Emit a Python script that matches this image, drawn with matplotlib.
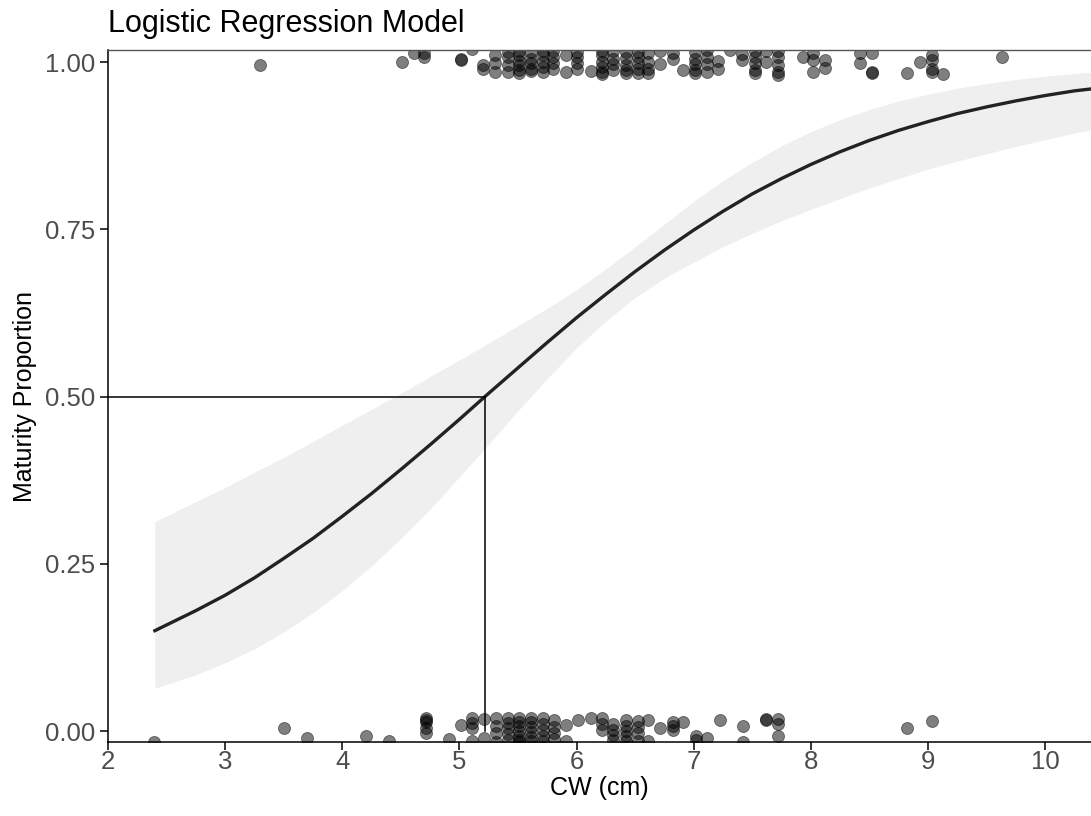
import matplotlib
matplotlib.use("Agg")
import matplotlib.pyplot as plt

plt.rcParams['font.family'] = ['Liberation Sans', 'DejaVu Sans']

# fitted curve and confidence band
cw = [2.4, 2.75, 3.0, 3.25, 3.5, 3.75, 4.0, 4.25, 4.5, 4.75, 5.0, 5.25, 5.5,
      5.75, 6.0, 6.25, 6.5, 6.75, 7.0, 7.25, 7.5, 7.75, 8.0, 8.25, 8.5, 8.75,
      9.0, 9.25, 9.5, 9.75, 10.0, 10.25, 10.4]
fit = [0.150, 0.180, 0.203, 0.229, 0.258, 0.288, 0.321, 0.355, 0.391, 0.428,
       0.466, 0.505, 0.543, 0.581, 0.618, 0.653, 0.687, 0.719, 0.749, 0.777,
       0.803, 0.826, 0.847, 0.866, 0.883, 0.898, 0.911, 0.923, 0.933, 0.942,
       0.950, 0.957, 0.960]
lower = [0.064, 0.084, 0.102, 0.123, 0.148, 0.177, 0.210, 0.247, 0.288, 0.332,
         0.380, 0.429, 0.479, 0.527, 0.573, 0.613, 0.648, 0.677, 0.701, 0.724,
         0.744, 0.763, 0.780, 0.796, 0.812, 0.826, 0.840, 0.852, 0.863, 0.874,
         0.884, 0.894, 0.899]
upper = [0.313, 0.343, 0.364, 0.387, 0.409, 0.433, 0.457, 0.481, 0.505, 0.530,
         0.555, 0.580, 0.606, 0.632, 0.660, 0.691, 0.724, 0.758, 0.792, 0.823,
         0.850, 0.875, 0.896, 0.914, 0.929, 0.942, 0.952, 0.961, 0.968, 0.974,
         0.979, 0.983, 0.985]

cw50 = 5.22

# jittered observations, mature (near 1)
mature = [
    (3.30, [0.995]), (4.51, [1.000]), (4.61, [1.013]), (4.70, [1.013, 1.007]),
    (5.01, [1.005, 1.003]), (5.11, [1.019]), (5.20, [0.995, 0.989]),
    (5.30, [1.011, 0.998, 0.985]), (5.41, [1.015, 1.008, 0.995, 0.985]),
    (5.51, [1.016, 1.010, 1.002, 0.995, 0.988, 0.983]),
    (5.61, [1.015, 1.005, 0.998, 0.990, 0.986]),
    (5.71, [1.016, 1.010, 1.000, 0.992, 0.985]),
    (5.80, [1.016, 1.008, 0.998, 0.990]), (5.91, [1.010, 0.985]),
    (6.00, [1.015, 1.008, 0.998, 0.990]), (6.12, [0.987]),
    (6.22, [1.016, 1.010, 1.000, 0.993, 0.985, 0.982]),
    (6.31, [1.016, 1.005, 0.997, 0.988]),
    (6.42, [1.015, 1.006, 0.996, 0.988, 0.983]),
    (6.52, [1.015, 1.008, 0.998, 0.990, 0.984]),
    (6.61, [1.013, 1.000, 0.990, 0.983]), (6.71, [1.017, 0.997]),
    (6.82, [1.013, 1.005]), (6.91, [0.988]),
    (7.01, [1.015, 1.005, 0.997, 0.988, 0.983]),
    (7.11, [1.018, 1.008, 0.997, 0.985]), (7.21, [1.002, 0.990]),
    (7.31, [1.018]), (7.41, [1.012, 1.003]),
    (7.52, [1.016, 1.008, 0.998, 0.988, 0.983]), (7.62, [1.017, 1.000]),
    (7.72, [1.016, 1.008, 0.995, 0.985, 0.981]), (7.93, [1.008]),
    (8.02, [1.013, 1.003, 0.985]), (8.12, [1.003, 0.991]),
    (8.42, [1.013, 0.998]), (8.52, [1.013, 0.985, 0.984]), (8.82, [0.984]),
    (8.93, [1.000]), (9.03, [1.010, 1.003, 0.990, 0.985]), (9.13, [0.982]),
    (9.63, [1.007]),
]

# jittered observations, immature (near 0)
immature = [
    (2.39, [-0.016]), (3.50, [0.004]), (3.70, [-0.011]), (4.20, [-0.007]),
    (4.40, [-0.015]), (4.71, [0.019, 0.016, 0.013, 0.004, -0.003]),
    (4.91, [-0.012]), (5.01, [0.009]), (5.11, [0.019, 0.012, 0.004, -0.015]),
    (5.21, [0.018, -0.010]), (5.31, [0.019, 0.008, -0.003, -0.016]),
    (5.41, [0.019, 0.012, 0.004, -0.005, -0.013]),
    (5.51, [0.020, 0.014, 0.007, 0.000, -0.007, -0.014, -0.016]),
    (5.61, [0.020, 0.013, 0.006, -0.002, -0.009, -0.015]),
    (5.71, [0.019, 0.010, 0.002, -0.008, -0.015]),
    (5.81, [0.016, 0.006, -0.003, -0.012]), (5.91, [0.009, -0.015]),
    (6.01, [0.016]), (6.12, [0.019]), (6.22, [0.019, 0.010, 0.002]),
    (6.31, [0.011, 0.002, -0.006, -0.013]),
    (6.42, [0.016, 0.008, 0.000, -0.008, -0.015]),
    (6.52, [0.015, 0.006, -0.003, -0.015]), (6.61, [0.016, -0.015]),
    (6.71, [0.005]), (6.82, [0.014, 0.008, 0.002]), (6.91, [0.013]),
    (7.02, [-0.008, -0.014]), (7.11, [-0.011]), (7.22, [0.016]),
    (7.42, [0.007, -0.017]), (7.62, [0.018, 0.016]),
    (7.72, [0.018, 0.010, -0.007]), (8.82, [0.004]), (9.03, [0.015]),
]

pts_x = []
pts_y = []
for x, ys in mature + immature:
    for y in ys:
        pts_x.append(x)
        pts_y.append(y)

fig = plt.figure(figsize=(10.91, 8.16), dpi=100)
ax = fig.add_axes([0.099, 0.0907, 0.901, 0.848])

ax.fill_between(cw, lower, upper, color='#efefef', linewidth=0, zorder=1)
ax.scatter(pts_x, pts_y, s=75, color='black', alpha=0.5, edgecolors='black',
           linewidths=0.6, zorder=2)
ax.plot(cw, fit, color='#222222', linewidth=2.4, zorder=3)
ax.plot([2, cw50], [0.5, 0.5], color='black', linewidth=1.1, zorder=4)
ax.plot([cw50, cw50], [0.5, 0], color='black', linewidth=1.1, zorder=4)

ax.set_xlim(2, 10.39)
ax.set_ylim(-0.0164, 1.018)
ax.set_xticks([2, 3, 4, 5, 6, 7, 8, 9, 10])
ax.set_yticks([0, 0.25, 0.5, 0.75, 1.0])
ax.set_yticklabels(['0.00', '0.25', '0.50', '0.75', '1.00'])
ax.tick_params(direction='out', length=6, width=1.1, labelsize=18.5,
               labelcolor='#4d4d4d', color='black', pad=3)
ax.tick_params(axis='x', pad=0)

for side in ['left', 'bottom']:
    ax.spines[side].set_color('black')
    ax.spines[side].set_linewidth(1.1)
ax.spines['top'].set_color('#555555')
ax.spines['top'].set_linewidth(1.0)
ax.spines['right'].set_visible(False)

ax.set_xlabel('CW (cm)', fontsize=18, labelpad=1)
ax.set_ylabel('Maturity Proportion', fontsize=18, labelpad=6)
ax.set_title('Logistic Regression Model', fontsize=22, loc='left', pad=13)

fig.savefig('out.png', dpi=100)
